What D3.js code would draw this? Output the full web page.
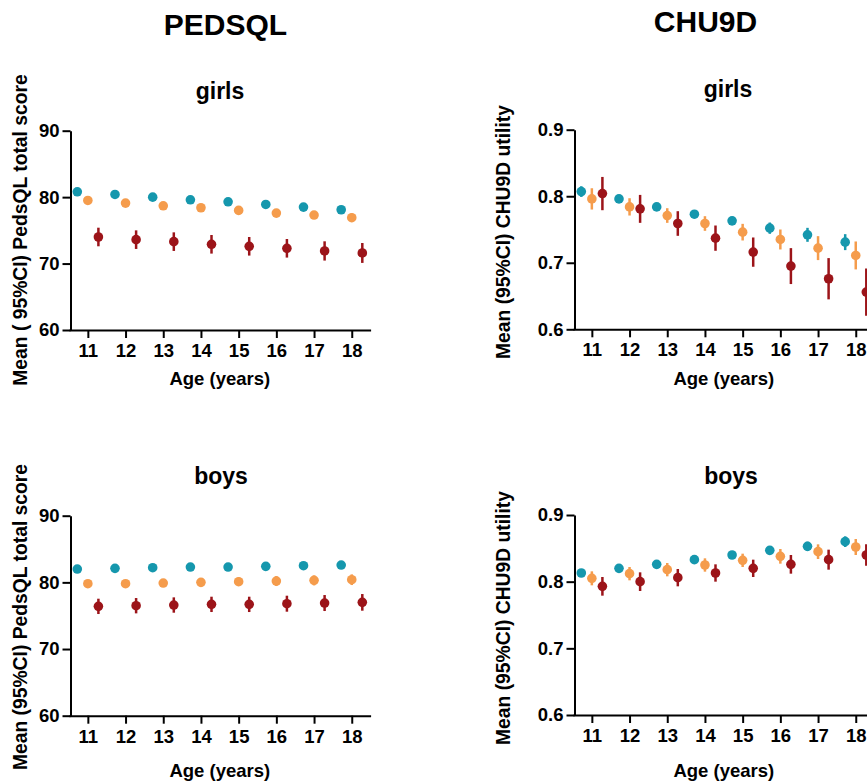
<!DOCTYPE html>
<html>
<head>
<meta charset="utf-8">
<script src="https://cdn.jsdelivr.net/npm/d3@7/dist/d3.min.js"></script>
<style>
  html, body { margin: 0; padding: 0; background: #fff; }
  svg { display: block; font-family: "Liberation Sans", Arial, sans-serif; font-weight: bold; }
</style>
</head>
<body>
<svg id="chart" width="867" height="781"></svg>
<script>
// ---------- DATA ----------
const ages = [11, 12, 13, 14, 15, 16, 17, 18];
const seriesNames = ["group A", "group B", "group C"];
const seriesColors = ["#1597ad", "#f59c4c", "#9c1419"];
const seriesOffsets = [-0.28, 0, 0.28];

const pedsTicks = [60, 70, 80, 90];
const chuTicks = [0.6, 0.7, 0.8, 0.9];

// PedsQL girls (mean, half-width of 95% CI)
const pedsGirlsA = [80.8, 80.4, 80.0, 79.6, 79.3, 78.9, 78.5, 78.1];
const pedsGirlsAci = [0.3, 0.3, 0.3, 0.3, 0.3, 0.3, 0.35, 0.35];
const pedsGirlsB = [79.5, 79.1, 78.7, 78.4, 78.0, 77.6, 77.3, 76.9];
const pedsGirlsBci = [0.5, 0.5, 0.5, 0.5, 0.55, 0.55, 0.6, 0.65];
const pedsGirlsC = [74.0, 73.6, 73.3, 72.9, 72.6, 72.3, 71.9, 71.6];
const pedsGirlsCci = [1.4, 1.4, 1.4, 1.4, 1.4, 1.4, 1.45, 1.5];

// PedsQL boys
const pedsBoysA = [82.0, 82.1, 82.2, 82.3, 82.3, 82.4, 82.5, 82.6];
const pedsBoysAci = [0.3, 0.3, 0.3, 0.3, 0.3, 0.3, 0.3, 0.3];
const pedsBoysB = [79.8, 79.8, 79.9, 80.0, 80.1, 80.2, 80.3, 80.4];
const pedsBoysBci = [0.55, 0.55, 0.6, 0.6, 0.65, 0.75, 0.75, 0.8];
const pedsBoysC = [76.4, 76.5, 76.6, 76.7, 76.7, 76.8, 76.9, 77.0];
const pedsBoysCci = [1.15, 1.15, 1.15, 1.15, 1.15, 1.2, 1.2, 1.25];

// CHU9D girls
const chuGirlsA = [0.807, 0.796, 0.784, 0.773, 0.763, 0.752, 0.742, 0.731];
const chuGirlsAci = [0.008, 0.005, 0.005, 0.006, 0.006, 0.0085, 0.0105, 0.012];
const chuGirlsB = [0.796, 0.784, 0.771, 0.759, 0.746, 0.735, 0.722, 0.711];
const chuGirlsBci = [0.016, 0.013, 0.011, 0.011, 0.0125, 0.015, 0.018, 0.021];
const chuGirlsC = [0.804, 0.781, 0.759, 0.737, 0.716, 0.695, 0.676, 0.656];
const chuGirlsCci = [0.025, 0.021, 0.0185, 0.019, 0.022, 0.027, 0.031, 0.0355];

// CHU9D boys
const chuBoysA = [0.813, 0.820, 0.826, 0.833, 0.840, 0.847, 0.853, 0.860];
const chuBoysAci = [0.006, 0.005, 0.005, 0.005, 0.005, 0.006, 0.007, 0.008];
const chuBoysB = [0.805, 0.812, 0.818, 0.825, 0.832, 0.838, 0.845, 0.852];
const chuBoysBci = [0.0105, 0.010, 0.010, 0.010, 0.010, 0.011, 0.011, 0.012];
const chuBoysC = [0.793, 0.800, 0.806, 0.813, 0.820, 0.826, 0.833, 0.840];
const chuBoysCci = [0.014, 0.014, 0.013, 0.013, 0.013, 0.014, 0.015, 0.016];

// ---------- LAYOUT ----------
const svg = d3.select("#chart");

const panels = [
  { title: "girls", yTitle: "Mean ( 95%CI) PedsQL total score", means: [pedsGirlsA, pedsGirlsB, pedsGirlsC], cis: [pedsGirlsAci, pedsGirlsBci, pedsGirlsCci],
    ticks: pedsTicks, fmt: d3.format("d"), x0: 69, y0: 330, y1: 130.7, titleX: 220, titleY: 99, yTitleX: 27, yTitleY: 230, ageY: 385 },
  { title: "boys", yTitle: "Mean (95%CI) PedsQL total score", means: [pedsBoysA, pedsBoysB, pedsBoysC], cis: [pedsBoysAci, pedsBoysBci, pedsBoysCci],
    ticks: pedsTicks, fmt: d3.format("d"), x0: 69, y0: 715.7, y1: 515.7, titleX: 221, titleY: 484, yTitleX: 27, yTitleY: 617, ageY: 777 },
  { title: "girls", yTitle: "Mean (95%CI) CHU9D utility", means: [chuGirlsA, chuGirlsB, chuGirlsC], cis: [chuGirlsAci, chuGirlsBci, chuGirlsCci],
    ticks: chuTicks, fmt: d3.format(".1f"), x0: 573, y0: 329.3, y1: 129.7, titleX: 728, titleY: 97, yTitleX: 510, yTitleY: 232, ageY: 385 },
  { title: "boys", yTitle: "Mean (95%CI) CHU9D utility", means: [chuBoysA, chuBoysB, chuBoysC], cis: [chuBoysAci, chuBoysBci, chuBoysCci],
    ticks: chuTicks, fmt: d3.format(".1f"), x0: 573, y0: 715, y1: 515, titleX: 731, titleY: 484, yTitleX: 510, yTitleY: 618, ageY: 777 }
];

svg.append("text").attr("x", 225.5).attr("y", 35).attr("text-anchor", "middle")
  .attr("font-size", 30).text("PEDSQL");
svg.append("text").attr("x", 705.5).attr("y", 32).attr("text-anchor", "middle")
  .attr("font-size", 30).text("CHU9D");

panels.forEach(p => {
  const x = d3.scaleLinear().domain([10.5, 18.5]).range([p.x0, p.x0 + 301.6]);
  const y = d3.scaleLinear().domain([p.ticks[0], p.ticks[p.ticks.length - 1]]).range([p.y0, p.y1]);
  const g = svg.append("g");

  // axes
  const xAxis = g.append("g").attr("transform", `translate(0,${p.y0})`)
    .call(d3.axisBottom(x).tickValues(ages).tickSize(8).tickSizeOuter(0).tickPadding(6).tickFormat(d3.format("d")));
  const yAxis = g.append("g").attr("transform", `translate(${x(10.5) + 1.5},0)`)
    .call(d3.axisLeft(y).tickValues(p.ticks).tickSize(8).tickSizeOuter(0).tickPadding(3).tickFormat(p.fmt));
  [xAxis, yAxis].forEach(a => {
    a.selectAll("path, line").attr("stroke", "#000").attr("stroke-width", 2);
    a.selectAll("text").attr("font-size", 18.5).attr("font-weight", "bold").attr("fill", "#000")
      .attr("font-family", "'Liberation Sans', Arial, sans-serif");
  });

  // titles
  g.append("text").attr("x", p.titleX).attr("y", p.titleY).attr("text-anchor", "middle")
    .attr("font-size", 23).text(p.title);
  g.append("text").attr("x", x(14.5)).attr("y", p.ageY).attr("text-anchor", "middle")
    .attr("font-size", 18.5).text("Age (years)");
  g.append("text").attr("transform", `translate(${p.yTitleX},${p.yTitleY}) rotate(-90)`)
    .attr("text-anchor", "middle").attr("font-size", 19.3).text(p.yTitle);

  // points with CI
  p.means.forEach((vals, si) => {
    const data = ages.map((a, i) => ({ age: a, m: vals[i], ci: p.cis[si][i] }));
    const sg = g.append("g").attr("fill", seriesColors[si]).attr("stroke", seriesColors[si]);
    sg.selectAll("line").data(data).join("line")
      .attr("x1", d => x(d.age + seriesOffsets[si])).attr("x2", d => x(d.age + seriesOffsets[si]))
      .attr("y1", d => y(d.m - d.ci)).attr("y2", d => y(d.m + d.ci))
      .attr("stroke-width", 2.5);
    sg.selectAll("circle").data(data).join("circle")
      .attr("cx", d => x(d.age + seriesOffsets[si])).attr("cy", d => y(d.m))
      .attr("r", 4.8).attr("stroke", "none");
  });
});
</script>
</body>
</html>
